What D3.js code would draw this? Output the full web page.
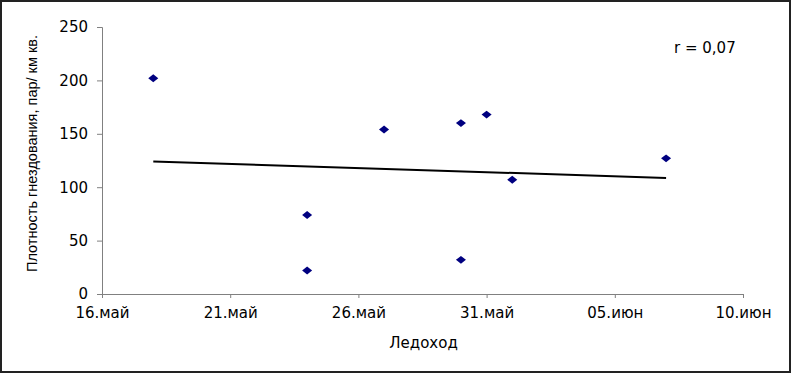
<!DOCTYPE html>
<html>
<head>
<meta charset="utf-8">
<script src="https://cdn.jsdelivr.net/npm/d3@7"></script>
<style>
  body { margin: 0; background: #fff; }
  svg text { font-family: "DejaVu Sans", Arial, sans-serif; fill: #000; }
</style>
</head>
<body>
<script>
// Data: ice drift date vs. nesting density.
var iceDates = ["2000-05-18", "2000-05-24", "2000-05-24", "2000-05-27", "2000-05-30",
                "2000-05-30", "2000-05-31", "2000-06-01", "2000-06-07"];
var density = [202, 74, 22, 154, 160, 32, 168, 107, 127];
var xTicks = ["2000-05-16", "2000-05-21", "2000-05-26", "2000-05-31", "2000-06-05", "2000-06-10"];
var yTicks = [0, 50, 100, 150, 200, 250];
var rLabel = "r = 0,07";

var parseTime = d3.timeParse("%Y-%m-%d");
var monthNames = ["янв", "фев", "мар", "апр", "май", "июн", "июл", "авг", "сен", "окт", "ноя", "дек"];
function fmtDate (d) {
    return d3.timeFormat("%d")(d) + "." + monthNames[d.getMonth()];
}

var data = iceDates.map(function (s, i) { return { date: parseTime(s), value: density[i] }; });

// Setup plot and window margins.
var plotWidth = 792;
var plotHeight = 374;
var margin = ({ top: 27, right: 49, bottom: 80, left: 102 });
var width = plotWidth - margin.left - margin.right;
var height = plotHeight - margin.top - margin.bottom;

var xScale = d3.scaleTime()
               .domain([parseTime(xTicks[0]), parseTime(xTicks[xTicks.length - 1])])
               .range([0, width]);
var yScale = d3.scaleLinear()
               .domain([0, 250])
               .range([height, 0]);

var root = d3.select("body").append("svg")
             .attr("width", plotWidth)
             .attr("height", plotHeight);

// Outer frame.
root.append("rect")
    .attr("x", 1).attr("y", 1)
    .attr("width", plotWidth - 3).attr("height", plotHeight - 3)
    .attr("fill", "none")
    .attr("stroke", "#222")
    .attr("stroke-width", 2);

var svg = root.append("g")
              .attr("transform", "translate(" + margin.left + ", " + margin.top + ")");

// Axes.
var xAxis = svg.append("g")
   .attr("transform", "translate(0, " + height + ")")
   .call(d3.axisBottom(xScale)
           .tickValues(xTicks.map(parseTime))
           .tickFormat(fmtDate)
           .tickSizeOuter(0)
           .tickSize(4)
           .tickPadding(9));
var yAxis = svg.append("g")
   .call(d3.axisLeft(yScale)
           .tickValues(yTicks)
           .tickSizeOuter(0)
           .tickSize(5)
           .tickPadding(9));

[xAxis, yAxis].forEach(function (a) {
    a.selectAll("path, line").attr("stroke", "#808080");
    a.selectAll("text").style("font-size", "15px").attr("fill", "#000");
});

// Axis titles.
svg.append("text")
   .attr("transform", "translate(" + (width / 2 + 1) + ", " + (height + 54) + ")")
   .style("text-anchor", "middle")
   .style("font-size", "15px")
   .text("Ледоход");

svg.append("text")
   .attr("transform", "translate(" + (-65) + ", " + (height / 2 - 7) + ") rotate(-90)")
   .style("text-anchor", "middle")
   .style("font-family", "'Liberation Sans', Arial, sans-serif")
   .style("font-size", "14.5px")
   .text("Плотность гнездования, пар/ км кв.");

// Linear trend line from least squares.
var xs = data.map(function (d) { return +d.date; });
var ys = data.map(function (d) { return d.value; });
var mx = d3.mean(xs), my = d3.mean(ys);
var sxy = d3.sum(xs, function (x, i) { return (x - mx) * (ys[i] - my); });
var sxx = d3.sum(xs, function (x) { return (x - mx) * (x - mx); });
var slope = sxy / sxx;
var ext = d3.extent(xs);
var trend = ext.map(function (x) { return { date: new Date(x), value: my + slope * (x - mx) }; });

var line = d3.line()
             .x(function (d) { return xScale(d.date); })
             .y(function (d) { return yScale(d.value); });

svg.append("path")
   .attr("d", line(trend))
   .attr("fill", "none")
   .attr("stroke", "#000")
   .attr("stroke-width", 2);

// Diamond markers.
var diamond = d3.symbol().type(d3.symbolDiamond2).size(64);
svg.selectAll(".dot")
   .data(data)
   .enter()
   .append("path")
   .attr("class", "dot")
   .attr("d", diamond)
   .attr("transform", function (d) {
       return "translate(" + xScale(d.date) + ", " + yScale(d.value) + ") scale(1, 0.78)";
   })
   .attr("fill", "#000080");

// Correlation note.
svg.append("text")
   .attr("x", width - 69)
   .attr("y", 26)
   .style("font-size", "15px")
   .text(rLabel);
</script>
</body>
</html>
